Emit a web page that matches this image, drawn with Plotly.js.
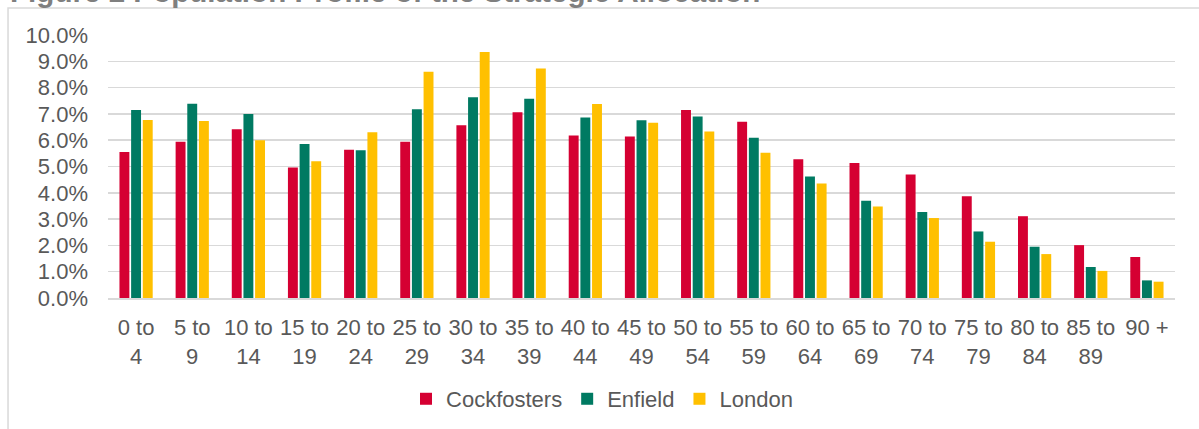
<!DOCTYPE html>
<html>
<head>
<meta charset="utf-8">
<script src="https://cdn.plot.ly/plotly-3.0.1.min.js"></script>
<style>html,body{margin:0;padding:0;background:#fff;}#chart{width:1199px;height:429px;}</style>
</head>
<body>
<div id="chart"></div>
<script>
const categories = ['0 to 4','5 to 9','10 to 14','15 to 19','20 to 24','25 to 29','30 to 34','35 to 39','40 to 44','45 to 49','50 to 54','55 to 59','60 to 64','65 to 69','70 to 74','75 to 79','80 to 84','85 to 89','90 +'];
const tickLabels = ['0 to<br>4','5 to<br>9','10 to<br>14','15 to<br>19','20 to<br>24','25 to<br>29','30 to<br>34','35 to<br>39','40 to<br>44','45 to<br>49','50 to<br>54','55 to<br>59','60 to<br>64','65 to<br>69','70 to<br>74','75 to<br>79','80 to<br>84','85 to<br>89','90 +'];
const cockfosters = [5.55,5.94,6.42,4.96,5.64,5.94,6.57,7.06,6.18,6.14,7.15,6.70,5.28,5.13,4.70,3.87,3.11,2.01,1.56];
const enfield     = [7.15,7.39,7.00,5.86,5.62,7.18,7.63,7.58,6.86,6.76,6.90,6.09,4.62,3.70,3.27,2.53,1.95,1.18,0.67];
const london      = [6.77,6.73,6.00,5.20,6.30,8.60,9.35,8.73,7.38,6.66,6.33,5.52,4.35,3.48,3.04,2.14,1.67,1.03,0.62];
const seriesNames = ['Cockfosters','Enfield','London'];
const yTicks = [0,1,2,3,4,5,6,7,8,9,10];
const yTickLabels = ['0.0%','1.0%','2.0%','3.0%','4.0%','5.0%','6.0%','7.0%','8.0%','9.0%','10.0%'];

const colors = ['#D50032','#007A62','#FFC000'];
const textColor = '#595959';
const font = 'Arial, "Liberation Sans", sans-serif';

const series = [cockfosters, enfield, london];
const traces = series.map((vals, i) => ({
  type: 'bar',
  name: seriesNames[i],
  x: categories,
  y: vals,
  marker: {color: colors[i]},
  hoverinfo: 'x+y'
}));

const layout = {
  width: 1199, height: 429,
  margin: {l: 108, r: 24, t: 35, b: 131},
  paper_bgcolor: '#ffffff',
  plot_bgcolor: '#ffffff',
  barmode: 'group',
  bargap: 0.377,
  bargroupgap: 0.15,
  font: {family: font, color: textColor, size: 20},
  xaxis: {
    type: 'category',
    tickvals: categories,
    ticktext: tickLabels,
    tickfont: {family: font, size: 22, color: textColor},
    showgrid: false,
    zeroline: false,
    showline: true,
    linecolor: '#d9d9d9',
    linewidth: 1.5,
    ticks: '',
    tickangle: 0,
    ticklabelstandoff: 9,
    automargin: false
  },
  yaxis: {
    range: [0, 10],
    tickvals: yTicks,
    ticktext: yTickLabels,
    tickfont: {family: font, size: 22, color: textColor},
    showgrid: true,
    gridcolor: '#d9d9d9',
    gridwidth: 1.5,
    zeroline: false,
    showline: false,
    ticks: '',
    ticklabelstandoff: 19,
    automargin: false
  },
  legend: {
    orientation: 'h',
    x: 0.463, xanchor: 'center',
    yref: 'container',
    y: 0.07, yanchor: 'middle',
    font: {family: font, size: 22, color: textColor},
    bgcolor: 'rgba(0,0,0,0)'
  },
  shapes: [{
    type: 'rect', xref: 'paper', yref: 'paper',
    x0: -0.0937, x1: 1.2, y0: -1, y1: 1.1027,
    line: {color: '#d9d9d9', width: 1.5},
    fillcolor: 'rgba(0,0,0,0)',
    layer: 'below'
  }],
  annotations: [{
    text: '<b>Figure 2 Population Profile of the Strategic Allocation</b>',
    xref: 'paper', yref: 'paper',
    x: -0.0937, xanchor: 'left',
    y: 1.094, yanchor: 'bottom',
    showarrow: false,
    font: {family: font, size: 29.6, color: '#7f7f7f'}
  }]
};

Plotly.newPlot('chart', traces, layout, {displayModeBar: false, staticPlot: true});
</script>
</body>
</html>
